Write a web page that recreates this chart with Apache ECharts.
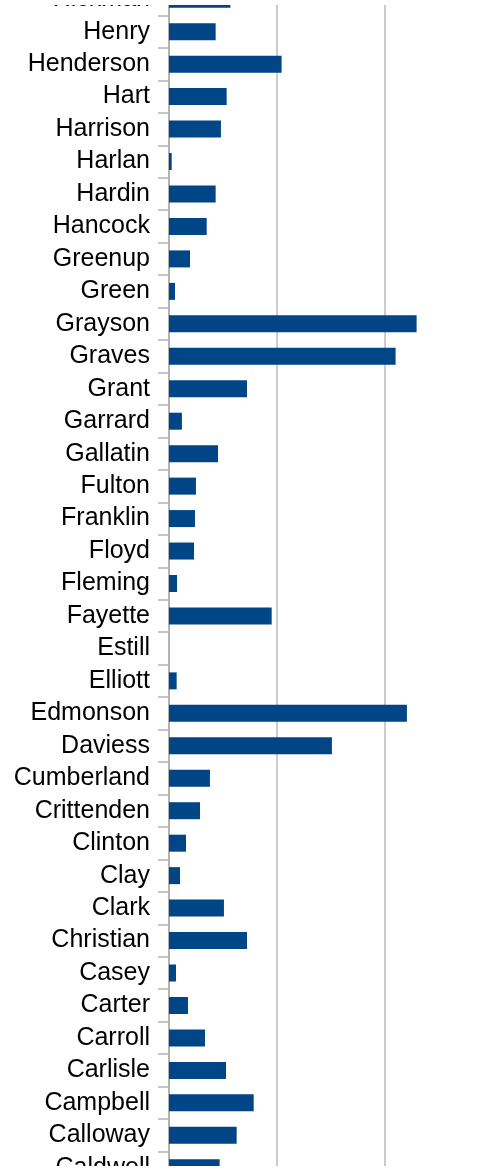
<!DOCTYPE html>
<html>
<head>
<meta charset="utf-8">
<script src="https://cdn.jsdelivr.net/npm/echarts@6/dist/echarts.min.js"></script>
<style>
  html, body { margin: 0; padding: 0; background: #fff; }
  #clip { position: absolute; left: 0; top: 5px; width: 489px; height: 1161px; overflow: hidden; }
  #chart { position: absolute; left: 0; top: -22px; width: 600px; height: 1201px; }
</style>
</head>
<body>
<div id="clip"><div id="chart"></div></div>
<script>
const counties = [
  'Hickman', 'Henry', 'Henderson', 'Hart', 'Harrison', 'Harlan', 'Hardin', 'Hancock',
  'Greenup', 'Green', 'Grayson', 'Graves', 'Grant', 'Garrard', 'Gallatin', 'Fulton',
  'Franklin', 'Floyd', 'Fleming', 'Fayette', 'Estill', 'Elliott', 'Edmonson', 'Daviess',
  'Cumberland', 'Crittenden', 'Clinton', 'Clay', 'Clark', 'Christian', 'Casey', 'Carter',
  'Carroll', 'Carlisle', 'Campbell', 'Calloway', 'Caldwell'
]
const values = [
  5.7, 4.33, 10.45, 5.35, 4.82, 0.25, 4.33, 3.5,
  1.95, 0.56, 22.98, 21.03, 7.24, 1.2, 4.55, 2.5,
  2.41, 2.32, 0.74, 9.53, 0, 0.71, 22.08, 15.12,
  3.8, 2.88, 1.58, 1.02, 5.1, 7.24, 0.65, 1.76,
  3.34, 5.29, 7.86, 6.28, 4.7
]

const chart = echarts.init(document.getElementById('chart'))

chart.setOption({
  animation: false,
  grid: { left: 169, top: 0, bottom: 0, right: 0, containLabel: false },
  xAxis: {
    type: 'value',
    min: 0,
    max: 40,
    interval: 10,
    axisLine: { show: false },
    axisTick: { show: false },
    axisLabel: { show: false },
    splitLine: { show: true, lineStyle: { color: '#cccccc', width: 2 } },
  },
  yAxis: {
    type: 'category',
    inverse: true,
    data: counties,
    axisLine: { show: true, lineStyle: { color: '#b3b3b3', width: 2 } },
    axisTick: { show: true, length: 11, lineStyle: { color: '#b3b3b3', width: 1.5 } },
    axisLabel: {
      interval: 0,
      margin: 19,
      color: '#000',
      fontSize: 25,
      fontFamily: 'Liberation Sans',
    },
  },
  series: [
    {
      type: 'bar',
      data: values,
      barWidth: 17,
      itemStyle: { color: '#004586' },
    },
  ],
})
</script>
</body>
</html>
